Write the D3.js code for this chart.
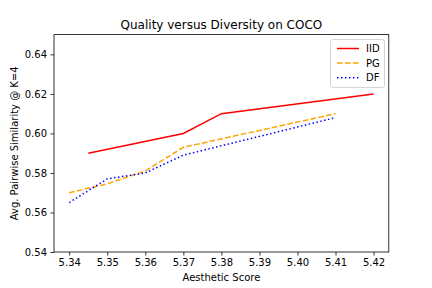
<!DOCTYPE html>
<html><head><meta charset="utf-8">
<script src="https://cdn.jsdelivr.net/npm/d3@7"></script>
<style>body{margin:0;background:#fff}svg{display:block;font-family:"DejaVu Sans",sans-serif}</style>
</head><body>
<svg id="c" width="432" height="288"></svg>
<script>
const seriesNames = ["IID", "PG", "DF"];
const seriesColors = ["red", "orange", "blue"];
const iidX = [5.345, 5.37, 5.38, 5.42];
const iidY = [0.590, 0.600, 0.610, 0.620];
const pgX = [5.34, 5.35, 5.36, 5.37, 5.41];
const pgY = [0.570, 0.5745, 0.581, 0.593, 0.610];
const dfX = [5.34, 5.35, 5.36, 5.37, 5.41];
const dfY = [0.565, 0.577, 0.580, 0.589, 0.608];
const xTicks = [5.34, 5.35, 5.36, 5.37, 5.38, 5.39, 5.40, 5.41, 5.42];
const yTicks = [0.54, 0.56, 0.58, 0.60, 0.62, 0.64];

const svg = d3.select("#c");
const L = 54, R = 388.8, T = 34.6, B = 252;
const x = d3.scaleLinear().domain([5.336, 5.424]).range([L, R]);
const y = d3.scaleLinear().domain([0.54, 0.65]).range([B, T]);

const dashes = [null, "5.55,2.4", "1.5,2.475"];
const data = [
  d3.zip(iidX, iidY), d3.zip(pgX, pgY), d3.zip(dfX, dfY)
];
const line = d3.line().x(d => x(d[0])).y(d => y(d[1]));
const g = svg.append("g");
g.append("defs").append("clipPath").attr("id","clip").append("rect")
  .attr("x", L).attr("y", T).attr("width", R-L).attr("height", B-T);
data.forEach((d, i) => {
  g.append("path").attr("d", line(d)).attr("fill","none")
    .attr("stroke", seriesColors[i]).attr("stroke-width", 1.5)
    .attr("stroke-dasharray", dashes[i]).attr("clip-path","url(#clip)");
});

// axes
const xa = svg.append("g").attr("transform", `translate(0,${B})`)
  .call(d3.axisBottom(x).tickValues(xTicks).tickFormat(d3.format(".2f")).tickSizeOuter(0).tickSize(3.5).tickPadding(3.5));
const ya = svg.append("g").attr("transform", `translate(${L},0)`)
  .call(d3.axisLeft(y).tickValues(yTicks).tickFormat(d3.format(".2f")).tickSizeOuter(0).tickSize(3.5).tickPadding(3.5));
[xa, ya].forEach(a => {
  a.select(".domain").remove();
  a.selectAll("text").attr("font-size", 10).attr("font-family", '"DejaVu Sans",sans-serif').attr("fill","#000");
  a.selectAll("line").attr("stroke","#000").attr("stroke-width",0.8);
});
svg.append("rect").attr("x", L).attr("y", T).attr("width", R-L).attr("height", B-T)
  .attr("fill","none").attr("stroke","#000").attr("stroke-width",0.8);

svg.append("text").attr("x", (L+R)/2).attr("y", T-6).attr("text-anchor","middle")
  .attr("font-size", 12).text("Quality versus Diversity on COCO");
svg.append("text").attr("x", (L+R)/2).attr("y", 281).attr("text-anchor","middle")
  .attr("font-size", 10).text("Aesthetic Score");
svg.append("text").attr("transform", `translate(18,${(T+B)/2}) rotate(-90)`).attr("text-anchor","middle")
  .attr("font-size", 10).text("Avg. Pairwise Similarity @ K=4");

// legend
const lg = svg.append("g");
lg.append("rect").attr("x", 330.5).attr("y", 39.5).attr("width", 54).attr("height", 48)
  .attr("rx", 2.5).attr("fill","#fff").attr("fill-opacity",0.8).attr("stroke","#ccc").attr("stroke-width",0.8);
seriesNames.forEach((n, i) => {
  const yy = 48.5 + i * 14.6;
  lg.append("line").attr("x1", 337).attr("x2", 359).attr("y1", yy).attr("y2", yy)
    .attr("stroke", seriesColors[i]).attr("stroke-width", 1.5).attr("stroke-dasharray", dashes[i]);
  lg.append("text").attr("x", 366).attr("y", yy + 3.6).attr("font-size", 10).text(n);
});
</script>
</body></html>
